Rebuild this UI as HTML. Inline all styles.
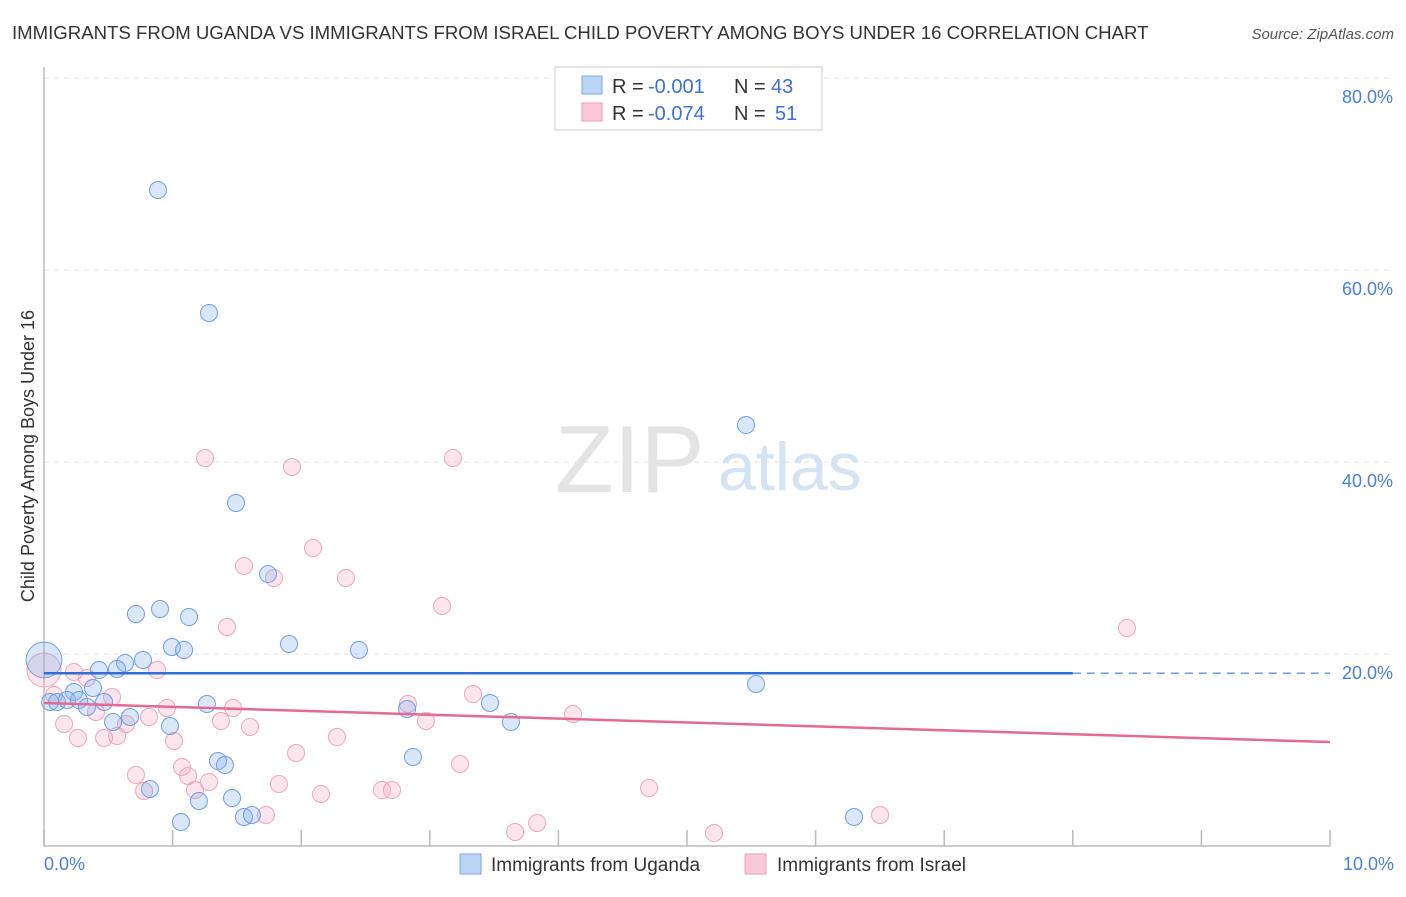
<!DOCTYPE html>
<html><head><meta charset="utf-8"><style>
body{margin:0;background:#fff;font-family:"Liberation Sans",sans-serif}
svg text{font-family:"Liberation Sans",sans-serif}
</style></head><body>
<svg width="1406" height="892" viewBox="0 0 1406 892" xmlns="http://www.w3.org/2000/svg">
<text x="12" y="39" font-size="18.6" fill="#333">IMMIGRANTS FROM UGANDA VS IMMIGRANTS FROM ISRAEL CHILD POVERTY AMONG BOYS UNDER 16 CORRELATION CHART</text>
<text x="1394" y="39" font-size="15" fill="#555" font-style="italic" text-anchor="end">Source: ZipAtlas.com</text>
<g id="grid"></g>
<text x="555" y="492" font-size="96" fill="#e4e4e4" font-family="Liberation Serif,serif">ZIP</text>
<text x="718" y="490" font-size="68" fill="#d5e3f5">atlas</text>
<line x1="44" y1="67" x2="44" y2="846" stroke="#bbb" stroke-width="1.5"/>
<line x1="44" y1="846" x2="1330" y2="846" stroke="#bbb" stroke-width="1.5"/>
<g id="ticks"></g>
<g id="pts"></g>
<g id="trend"></g>
<text x="34" y="456" font-size="18" fill="#333" text-anchor="middle" transform="rotate(-90 34 456)">Child Poverty Among Boys Under 16</text>
<text x="44" y="870" font-size="18" fill="#4a7fd6">0.0%</text>
<text x="1394" y="870" font-size="18" fill="#4a7fd6" text-anchor="end">10.0%</text>
<g>
<rect x="555" y="67" width="267" height="63" fill="#fff" stroke="#ccc"/>
<rect x="582" y="76" width="20" height="18" fill="#bcd5f5" stroke="#7aa7e3"/>
<rect x="582" y="103" width="20" height="18" fill="#f9c9d8" stroke="#eba0b8"/>
<text x="612" y="93" font-size="20" fill="#333">R =</text>
<text x="648" y="93" font-size="20" fill="#3b73d1">-0.001</text>
<text x="734" y="93" font-size="20" fill="#333">N =</text>
<text x="771" y="93" font-size="20" fill="#3b73d1">43</text>
<text x="612" y="120" font-size="20" fill="#333">R =</text>
<text x="648" y="120" font-size="20" fill="#3b73d1">-0.074</text>
<text x="734" y="120" font-size="20" fill="#333">N =</text>
<text x="775" y="120" font-size="20" fill="#3b73d1">51</text>
</g>
<g>
<rect x="460" y="854" width="21" height="20" fill="#bcd5f5" stroke="#7aa7e3"/>
<text x="491" y="871" font-size="19" fill="#333">Immigrants from Uganda</text>
<rect x="745" y="854" width="21" height="20" fill="#f9c9d8" stroke="#eba0b8"/>
<text x="777" y="871" font-size="19" fill="#333">Immigrants from Israel</text>
</g>
</svg>
<script>
const yTicks=[20,40,60,80];
const yTickLabels=["20.0%","40.0%","60.0%","80.0%"];
const xTicks=[0,1,2,3,4,5,6,7,8,9,10];
const ugX=[0.886,1.283,5.459,1.493,1.742,0.715,0.902,1.128,1.905,0.995,1.089,2.449,0.770,0.630,0.568,0.428,0.233,0.047,0.101,0.179,0.272,0.381,0.467,0.334,0.669,0.537,0.980,1.267,2.823,3.468,3.631,5.537,1.353,1.407,2.869,0.824,1.205,1.462,1.555,1.617,1.065,6.299,0.0];
const ugY=[68.33,55.52,43.85,35.73,28.33,24.17,24.69,23.85,21.04,20.73,20.42,20.42,19.38,19.06,18.44,18.33,16.04,15.0,15.0,15.21,15.21,16.46,15.0,14.48,13.44,12.92,12.5,14.79,14.27,14.9,12.92,16.88,8.85,8.44,9.27,5.94,4.69,5.0,3.02,3.23,2.5,3.02,19.38];
const ugSize=[1,1,1,1,1,1,1,1,1,1,1,1,1,1,1,1,1,1,1,1,1,1,1,1,1,1,1,1,1,1,1,1,1,1,1,1,1,1,1,1,1,1,2.1];
const isX=[1.252,1.928,3.180,2.092,1.555,1.788,2.348,3.095,1.423,8.421,0,0.233,0.334,0.879,0.078,0.529,0.956,0.816,0.404,0.156,0.638,0.264,0.467,0.568,1.011,1.376,1.470,1.602,2.830,3.336,2.970,4.114,2.278,1.960,3.235,1.073,0.715,1.120,1.283,1.827,0.778,1.174,2.154,2.628,2.706,4.705,1.726,3.834,3.663,5.210,6.501];
const isY=[40.42,39.48,40.42,31.04,29.17,27.92,27.92,25.0,22.81,22.71,18.33,18.13,17.5,18.33,15.73,15.52,14.38,13.44,13.96,12.71,12.71,11.25,11.25,11.46,10.94,13.02,14.38,12.4,14.79,15.83,13.02,13.75,11.35,9.69,8.54,8.23,7.4,7.29,6.67,6.46,5.73,5.83,5.42,5.83,5.83,6.04,3.23,2.4,1.46,1.35,3.23];
const isSize=[1,1,1,1,1,1,1,1,1,1,2.0,1,1,1,1,1,1,1,1,1,1,1,1,1,1,1,1,1,1,1,1,1,1,1,1,1,1,1,1,1,1,1,1,1,1,1,1,1,1,1,1];
const ugTrend=[18.0,18.0];
const isTrend=[14.9,10.83];
const NS="http://www.w3.org/2000/svg";
const X=v=>44+v*128.6, Y=v=>846-v*9.6;
function mk(t,a,p){const e=document.createElementNS(NS,t);for(const k in a)e.setAttribute(k,a[k]);document.getElementById(p).appendChild(e);return e;}
yTicks.forEach((t,i)=>{
 const l=mk('line',{x1:44,x2:1394,y1:Y(t),y2:Y(t),stroke:'#e3e3e3','stroke-dasharray':'5,5'},'grid');
 
 
 const tx=mk('text',{x:1393,y:Y(t)+25,'font-size':18,fill:'#4a7fd6','text-anchor':'end'},'grid');
 tx.textContent=yTickLabels[i];
 
 
});
xTicks.forEach(t=>{
 const l=mk('line',{x1:X(t),x2:X(t),y1:830,y2:846,stroke:'#bbb','stroke-width':1.5},'ticks');
 
 
});
isX.forEach((x,i)=>{
 const c=mk('circle',{cx:X(x),cy:Y(isY[i]),r:8.5*isSize[i],fill:'rgba(245,160,190,0.28)',stroke:'#eda5bd','stroke-width':1},'pts');
 
 
});
ugX.forEach((x,i)=>{
 const c=mk('circle',{cx:X(x),cy:Y(ugY[i]),r:8.5*ugSize[i],fill:'rgba(130,175,235,0.3)',stroke:'#6f9fe0','stroke-width':1},'pts');
 
 
});
const solidEnd=8.0;
const yAt=(a,x)=>a[0]+(a[1]-a[0])*x/10;
let l1=mk('line',{x1:X(0),y1:Y(yAt(ugTrend,0)),x2:X(solidEnd),y2:Y(yAt(ugTrend,solidEnd)),stroke:'#2f6fd6','stroke-width':2.5},'trend');


let l2=mk('line',{x1:X(solidEnd),y1:Y(yAt(ugTrend,solidEnd)),x2:X(10),y2:Y(yAt(ugTrend,10)),stroke:'#6b9de0','stroke-width':1.5,'stroke-dasharray':'8,6'},'trend');


let l3=mk('line',{x1:X(0),y1:Y(isTrend[0]),x2:X(10),y2:Y(isTrend[1]),stroke:'#e56a93','stroke-width':2.5},'trend');


</script>
</body></html>
